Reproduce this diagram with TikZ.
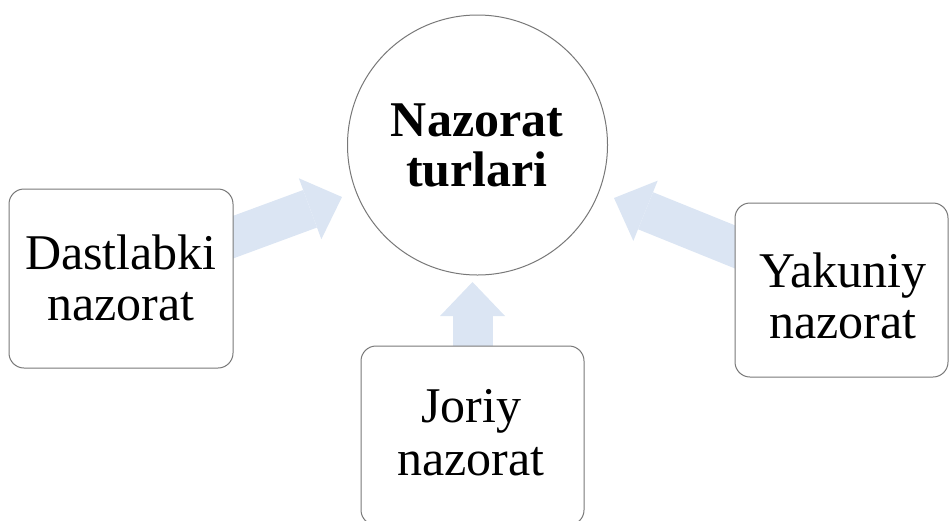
\documentclass[tikz,border=0pt]{standalone}
\usepackage{fontspec}
\setmainfont{Liberation Serif}
\usetikzlibrary{arrows.meta,backgrounds}
\definecolor{arrowblue}{RGB}{219,229,243}
\definecolor{edgegray}{RGB}{120,120,120}
\tikzset{
  fatarrow/.style={draw=arrowblue, line width=40pt,
    -{Triangle[width=65pt,length=34pt,line width=0pt]}},
  boxnode/.style={draw=edgegray, fill=white, line width=1pt, rounded corners=15pt,
    inner sep=0pt},
  lbl/.style={align=center, inner sep=0pt, anchor=base,
    font=\fontsize{50}{51}\selectfont},
}
\begin{document}
\begin{tikzpicture}[x=1pt,y=-1pt]
\clip (0,0) rectangle (949,520);
% boxes
\node[boxnode, minimum width=224pt, minimum height=179pt] (lbox) at (121,278.5) {};
\node[boxnode, minimum width=213pt, minimum height=174pt] (rbox) at (841.5,290) {};
\node[boxnode, minimum width=223pt, minimum height=179pt] (bbox) at (472.5,435.5) {};
\node[circle, draw=edgegray, fill=white, line width=1pt, minimum size=260pt, inner sep=0pt] (c) at (477.5,145) {};
% texts (base anchor = baseline of last line)
\node[lbl] (ltext) at (121,320) {Dastlabki\\nazorat};
\node[lbl] (rtext) at (843,338) {Yakuniy\\nazorat};
\node[lbl] (btext) at (471,475) {Joriy\\[2pt]nazorat};
\node[lbl, font=\fontsize{50}{50}\selectfont\bfseries] (ctext) at (477,186) {Nazorat\\turlari};
% arrows
\coordinate (ltip) at (342,197);
\coordinate (rtip) at (614,198);
\coordinate (btip) at (472.5,282);
\begin{scope}[on background layer]
\draw[fatarrow] (lbox.center) -- (ltip);
\draw[fatarrow] (rbox.center) -- (rtip);
\draw[fatarrow] (bbox.center) -- (btip);
\end{scope}
\end{tikzpicture}
\end{document}
